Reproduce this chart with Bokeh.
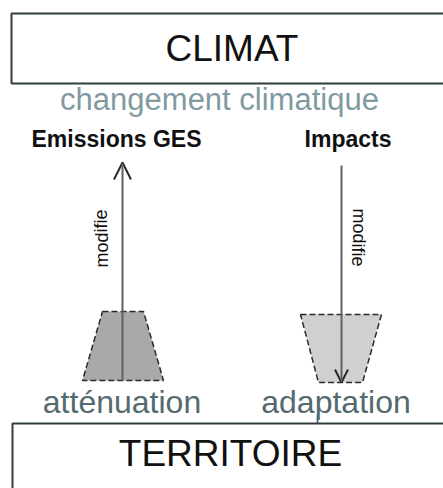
from bokeh.plotting import figure
from bokeh.models import Range1d, Arrow, OpenHead
from bokeh.core.properties import value
from bokeh.embed import file_html
from bokeh.resources import INLINE

# ---- diagram content (reference pixel coordinates) ----
box_labels = ["CLIMAT", "TERRITOIRE"]
box_left = [11, 12]
box_right = [470, 470]
box_top = [13, 423]
box_bottom = [83, 520]
box_label_x = [231.5, 230]
box_label_y = [47.5, 452.5]

sub_label = ["changement climatique"]
sub_x = [219]
sub_y = [99]

head_labels = ["Emissions GES", "Impacts"]
head_x = [116, 347.5]
head_y = [138, 138]

foot_labels = ["atténuation", "adaptation"]
foot_x = [121.5, 335.5]
foot_y = [401, 401]

side_labels = ["modifie", "modifie"]
side_x = [101, 358]
side_y = [238, 237]
side_angle = [1.5708, -1.5708]

trap_xs = [[102, 143, 163, 82], [300, 381, 362, 318]]
trap_ys = [[311, 311, 380, 380], [314, 314, 382, 382]]
trap_fill = ["#a9a9a9", "#d0d0d0"]

arrow_x = [122, 341]
arrow_start = [380, 165]
arrow_end = [162, 382]
arrow_head = [17, 13]

FONT = value("Liberation Sans")

p = figure(width=443, height=488, output_backend="svg", toolbar_location=None,
           x_range=Range1d(0, 443), y_range=Range1d(488, 0),
           x_axis_type=None, y_axis_type=None, min_border=0,
           background_fill_color="white", border_fill_color="white")
p.outline_line_color = None
p.grid.visible = False

# boxes
p.quad(left=box_left, right=box_right, top=box_top, bottom=box_bottom,
       fill_color="white", line_color="#2f3d3d", line_width=2)
p.text(x=box_label_x, y=box_label_y, text=box_labels, text_font=FONT,
       text_font_size="37px", text_align="center", text_baseline="middle",
       text_color="#111111")

# subtitle
p.text(x=sub_x, y=sub_y, text=sub_label, text_font=FONT, text_font_size="31px",
       text_align="center", text_baseline="middle", text_color="#7f9aa1")

# headers
p.text(x=head_x, y=head_y, text=head_labels, text_font=FONT, text_font_size="23px",
       text_font_style="bold", text_align="center", text_baseline="middle",
       text_color="#111111")

# trapezoids
p.patches(xs=trap_xs, ys=trap_ys, fill_color=trap_fill, line_color="#2a2a2a",
          line_width=1.5, line_dash="6 3")

# arrows
for x, s, e, h in zip(arrow_x, arrow_start, arrow_end, arrow_head):
    p.add_layout(Arrow(x_start=x, y_start=s, x_end=x, y_end=e,
                       line_color="#5a6464", line_width=2,
                       end=OpenHead(size=h, line_color="#2a2a2a", line_width=2)))

# small tick
p.segment(x0=[317], y0=[414], x1=[317], y1=[423], line_color="#3a4848", line_width=1.5)

# rotated labels
p.text(x=side_x, y=side_y, text=side_labels, angle=side_angle, text_font=FONT,
       text_font_size="18px", text_align="center", text_baseline="middle",
       text_color="#111111")

# footer labels
p.text(x=foot_x, y=foot_y, text=foot_labels, text_font=FONT, text_font_size="32px",
       text_align="center", text_baseline="middle", text_color="#556a6e")

open("out.html", "w").write(file_html(p, INLINE))
